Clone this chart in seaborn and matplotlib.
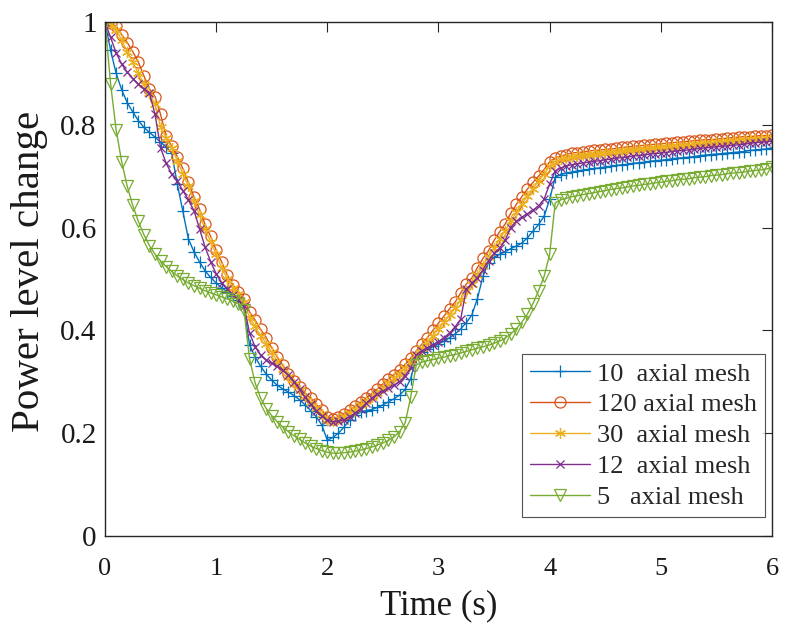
import numpy as np
import pandas as pd
import matplotlib
matplotlib.use("Agg")
import matplotlib.pyplot as plt
import seaborn as sns

# time grid (s), one sample every 0.05 s
time_s = np.round(np.arange(121) * 0.05, 2)

labels = ["10  axial mesh", "120 axial mesh", "30  axial mesh", "12  axial mesh", "5   axial mesh"]

mesh10 = [
    1.000, 0.945, 0.900, 0.868, 0.843, 0.825, 0.808, 0.795, 0.785, 0.776,
    0.766, 0.757, 0.745, 0.685, 0.632, 0.578, 0.553, 0.533, 0.516, 0.503,
    0.492, 0.483, 0.475, 0.466, 0.459, 0.445, 0.372, 0.348, 0.330, 0.315,
    0.303, 0.293, 0.286, 0.280, 0.273, 0.265, 0.255, 0.244, 0.232, 0.216,
    0.186, 0.192, 0.200, 0.212, 0.225, 0.235, 0.241, 0.244, 0.246, 0.250,
    0.255, 0.261, 0.267, 0.274, 0.285, 0.306, 0.348, 0.358, 0.364, 0.369,
    0.374, 0.379, 0.386, 0.393, 0.403, 0.415, 0.430, 0.462, 0.505, 0.532,
    0.542, 0.548, 0.553, 0.559, 0.564, 0.570, 0.580, 0.593, 0.606, 0.622,
    0.655, 0.698, 0.703, 0.706, 0.708, 0.710, 0.712, 0.713, 0.715, 0.716,
    0.718, 0.719, 0.721, 0.722, 0.723, 0.725, 0.726, 0.727, 0.729, 0.730,
    0.731, 0.732, 0.734, 0.735, 0.736, 0.737, 0.738, 0.740, 0.741, 0.742,
    0.743, 0.744, 0.745, 0.746, 0.747, 0.748, 0.750, 0.751, 0.752, 0.753,
    0.755,
]

mesh120 = [
    1.000, 0.998, 0.992, 0.975, 0.960, 0.942, 0.922, 0.895, 0.870, 0.855,
    0.820, 0.778, 0.758, 0.738, 0.715, 0.688, 0.660, 0.636, 0.606, 0.583,
    0.556, 0.533, 0.508, 0.488, 0.475, 0.462, 0.436, 0.420, 0.402, 0.386,
    0.366, 0.348, 0.332, 0.316, 0.302, 0.290, 0.278, 0.268, 0.256, 0.245,
    0.232, 0.228, 0.232, 0.238, 0.245, 0.252, 0.260, 0.268, 0.277, 0.286,
    0.296, 0.305, 0.314, 0.323, 0.334, 0.346, 0.360, 0.373, 0.386, 0.400,
    0.414, 0.428, 0.442, 0.455, 0.473, 0.490, 0.502, 0.522, 0.540, 0.555,
    0.575, 0.592, 0.607, 0.628, 0.645, 0.660, 0.675, 0.688, 0.700, 0.713,
    0.728, 0.735, 0.739, 0.742, 0.745, 0.746, 0.747, 0.749, 0.750, 0.751,
    0.752, 0.753, 0.754, 0.756, 0.757, 0.758, 0.759, 0.760, 0.761, 0.762,
    0.763, 0.764, 0.765, 0.766, 0.767, 0.768, 0.769, 0.770, 0.771, 0.771,
    0.772, 0.773, 0.774, 0.775, 0.776, 0.777, 0.777, 0.778, 0.779, 0.779,
    0.780,
]

mesh30 = [
    1.000, 0.996, 0.985, 0.965, 0.942, 0.922, 0.900, 0.880, 0.862, 0.840,
    0.795, 0.775, 0.755, 0.730, 0.705, 0.680, 0.652, 0.625, 0.598, 0.572,
    0.548, 0.522, 0.500, 0.482, 0.470, 0.455, 0.425, 0.408, 0.390, 0.374,
    0.357, 0.340, 0.325, 0.310, 0.296, 0.284, 0.272, 0.260, 0.249, 0.238,
    0.226, 0.224, 0.228, 0.233, 0.240, 0.247, 0.255, 0.262, 0.270, 0.279,
    0.288, 0.298, 0.307, 0.316, 0.326, 0.338, 0.352, 0.365, 0.377, 0.390,
    0.403, 0.416, 0.430, 0.443, 0.460, 0.477, 0.490, 0.508, 0.526, 0.542,
    0.560, 0.578, 0.594, 0.612, 0.630, 0.646, 0.662, 0.676, 0.690, 0.704,
    0.720, 0.728, 0.733, 0.736, 0.738, 0.739, 0.741, 0.742, 0.743, 0.745,
    0.746, 0.747, 0.748, 0.749, 0.750, 0.751, 0.752, 0.753, 0.754, 0.755,
    0.756, 0.757, 0.758, 0.759, 0.760, 0.761, 0.762, 0.763, 0.764, 0.765,
    0.766, 0.767, 0.768, 0.769, 0.770, 0.771, 0.772, 0.773, 0.773, 0.774,
    0.775,
]

mesh12 = [
    1.000, 0.970, 0.940, 0.918, 0.902, 0.890, 0.879, 0.870, 0.862, 0.820,
    0.755, 0.725, 0.704, 0.690, 0.672, 0.654, 0.633, 0.598, 0.562, 0.534,
    0.510, 0.493, 0.480, 0.469, 0.460, 0.448, 0.395, 0.368, 0.352, 0.342,
    0.336, 0.330, 0.322, 0.313, 0.300, 0.285, 0.270, 0.256, 0.244, 0.234,
    0.225, 0.222, 0.223, 0.226, 0.232, 0.239, 0.248, 0.258, 0.268, 0.276,
    0.282, 0.287, 0.293, 0.300, 0.312, 0.326, 0.352, 0.360, 0.366, 0.372,
    0.378, 0.386, 0.395, 0.407, 0.422, 0.480, 0.492, 0.502, 0.518, 0.535,
    0.550, 0.560, 0.575, 0.600, 0.612, 0.620, 0.627, 0.634, 0.642, 0.655,
    0.685, 0.710, 0.716, 0.720, 0.722, 0.724, 0.726, 0.727, 0.729, 0.730,
    0.732, 0.733, 0.735, 0.736, 0.737, 0.739, 0.740, 0.741, 0.743, 0.744,
    0.745, 0.746, 0.748, 0.749, 0.750, 0.751, 0.752, 0.754, 0.755, 0.756,
    0.757, 0.758, 0.759, 0.760, 0.761, 0.762, 0.764, 0.765, 0.766, 0.767,
    0.768,
]

mesh5 = [
    1.000, 0.880, 0.790, 0.728, 0.680, 0.643, 0.612, 0.586, 0.565, 0.548,
    0.535, 0.524, 0.515, 0.506, 0.499, 0.492, 0.487, 0.482, 0.477, 0.473,
    0.469, 0.465, 0.461, 0.457, 0.452, 0.440, 0.345, 0.298, 0.268, 0.248,
    0.234, 0.222, 0.212, 0.203, 0.195, 0.188, 0.181, 0.175, 0.170, 0.166,
    0.163, 0.161, 0.161, 0.162, 0.163, 0.165, 0.167, 0.170, 0.173, 0.177,
    0.181, 0.186, 0.193, 0.203, 0.220, 0.270, 0.333, 0.338, 0.341, 0.343,
    0.346, 0.348, 0.351, 0.353, 0.356, 0.359, 0.362, 0.365, 0.368, 0.371,
    0.375, 0.379, 0.385, 0.393, 0.403, 0.416, 0.432, 0.452, 0.477, 0.505,
    0.548, 0.648, 0.654, 0.657, 0.660, 0.662, 0.664, 0.666, 0.668, 0.670,
    0.672, 0.674, 0.676, 0.677, 0.679, 0.681, 0.682, 0.684, 0.685, 0.687,
    0.688, 0.690, 0.691, 0.693, 0.694, 0.695, 0.697, 0.698, 0.699, 0.701,
    0.702, 0.703, 0.705, 0.706, 0.707, 0.708, 0.710, 0.711, 0.712, 0.714,
    0.717,
]

series = [mesh10, mesh120, mesh30, mesh12, mesh5]
colors = ["#0072BD", "#D95319", "#EDB120", "#7E2F8E", "#77AC30"]
markers = ["+", "o", (6, 2, 0), "x", "v"]
msizes = [9, 8, 8, 6, 9]

xticks = [0, 1, 2, 3, 4, 5, 6]
yticks = [0, 0.2, 0.4, 0.6, 0.8, 1.0]
yticklabels = ["0", "0.2", "0.4", "0.6", "0.8", "1"]

sns.set_theme(style="white")
plt.rcParams["font.family"] = ["Liberation Serif", "DejaVu Serif"]

fig = plt.figure(figsize=(7.92, 6.26), dpi=100)
ax = fig.add_axes([0.1326, 0.1438, 0.8421, 0.8211])

for vals, lab, col, mk, ms in zip(series, labels, colors, markers, msizes):
    df = pd.DataFrame({"t": time_s, "v": vals})
    sns.lineplot(data=df, x="t", y="v", ax=ax, color=col, marker=mk,
                 markersize=ms, markerfacecolor="none", markeredgecolor=col,
                 markeredgewidth=0.9, linewidth=1.0, label=lab,
                 estimator=None, sort=False)

ax.set_xlim(0, 6)
ax.set_ylim(0, 1)
ax.set_xticks(xticks)
ax.set_xticklabels([str(x) for x in xticks])
ax.set_yticks(yticks)
ax.set_yticklabels(yticklabels)
ax.tick_params(axis="both", direction="in", length=7, width=0.8,
               top=True, right=True, colors="#262626", labelcolor="#1a1a1a")
ax.tick_params(axis="x", labelsize=19, pad=16)
ax.tick_params(axis="y", labelsize=21, pad=6)
for s in ax.spines.values():
    s.set_visible(True)
    s.set_color("#262626")
    s.set_linewidth(1.0)

ax.set_xlabel("Time (s)", fontsize=25, color="#1a1a1a")
ax.set_ylabel("Power level change", fontsize=29.5, color="#1a1a1a")
ax.xaxis.set_label_coords(0.5, -0.103)
ax.yaxis.set_label_coords(-0.0855, 0.515)

leg = ax.legend(loc="lower right", bbox_to_anchor=(0.99, 0.037), fontsize=19,
                frameon=True, fancybox=False, edgecolor="#262626",
                handlelength=2.3, handletextpad=0.27, borderpad=0.3,
                labelspacing=0.28, borderaxespad=0.0)
leg.get_frame().set_linewidth(0.8)

fig.savefig("out.png", dpi=100)
